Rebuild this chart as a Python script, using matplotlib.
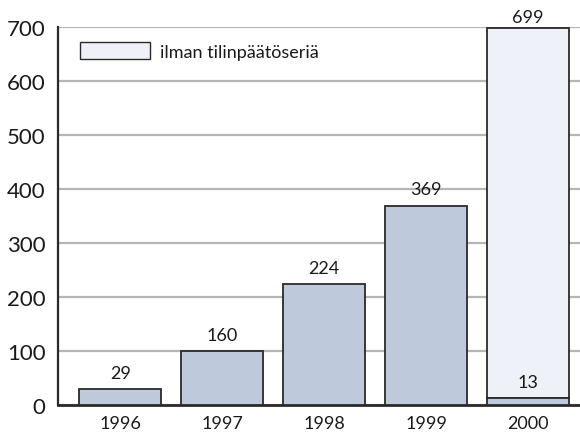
import matplotlib
matplotlib.use("Agg")
import matplotlib.pyplot as plt
from matplotlib.patches import Patch

years = ["1996", "1997", "1998", "1999", "2000"]
bar_heights = [29, 100, 224, 369, 13]
bar_labels = ["29", "160", "224", "369", "13"]
total_2000 = 699
legend_label = "ilman tilinpäätöseriä"
yticks = [0, 100, 200, 300, 400, 500, 600, 700]

plt.rcParams['font.family'] = ['Lato', 'DejaVu Sans']

dark = "#bfc9dc"
light = "#eef1f7"
edge = "#2a2a2a"
grid = "#b5b5b5"
txt = "#1a1a1a"

fig = plt.figure(figsize=(5.8, 4.35), dpi=100)
ax = fig.add_axes([58/580, 1-406/435, 1-58/580, (406-28)/435])

x = list(range(len(years)))
ax.bar([x[-1]], [total_2000 - bar_heights[-1]], bottom=[bar_heights[-1]], width=0.8,
       color=light, edgecolor=edge, linewidth=1.3, zorder=3)
ax.bar(x, bar_heights, width=0.8, color=dark, edgecolor=edge, linewidth=1.3, zorder=3)

for xi, h, lab in zip(x, bar_heights, bar_labels):
    ax.annotate(lab, (xi, h), xytext=(0, 6), textcoords="offset points",
                ha="center", va="bottom", fontsize=13, color=txt)
ax.annotate(str(total_2000), (x[-1], total_2000), xytext=(0, 1.5), textcoords="offset points",
            ha="center", va="bottom", fontsize=13, color=txt, annotation_clip=False)

ax.set_xlim(-0.61, 4.51)
ax.set_ylim(0, 700)
ax.set_yticks(yticks)
ax.set_xticks(x)
ax.set_xticklabels(years)
ax.tick_params(axis="y", length=0, pad=9, labelsize=16, labelcolor=txt)
ax.tick_params(axis="x", length=0, pad=7, labelsize=13, labelcolor=txt)
ax.yaxis.grid(True, color=grid, linewidth=1.6, zorder=0)
ax.set_axisbelow(True)
for s in ["top", "right"]:
    ax.spines[s].set_visible(False)
ax.spines["left"].set_linewidth(1.6)
ax.spines["left"].set_color(edge)
ax.spines["bottom"].set_linewidth(2.0)
ax.spines["bottom"].set_color(edge)

handle = Patch(facecolor=light, edgecolor=edge, linewidth=1.0)
ax.legend([handle], [legend_label], loc="upper left", bbox_to_anchor=(0.042, 0.96),
          frameon=False, borderpad=0, borderaxespad=0, handlelength=3.9,
          handleheight=1.05, handletextpad=0.55, fontsize=13, labelcolor=txt)

fig.savefig("out.png", dpi=100)
